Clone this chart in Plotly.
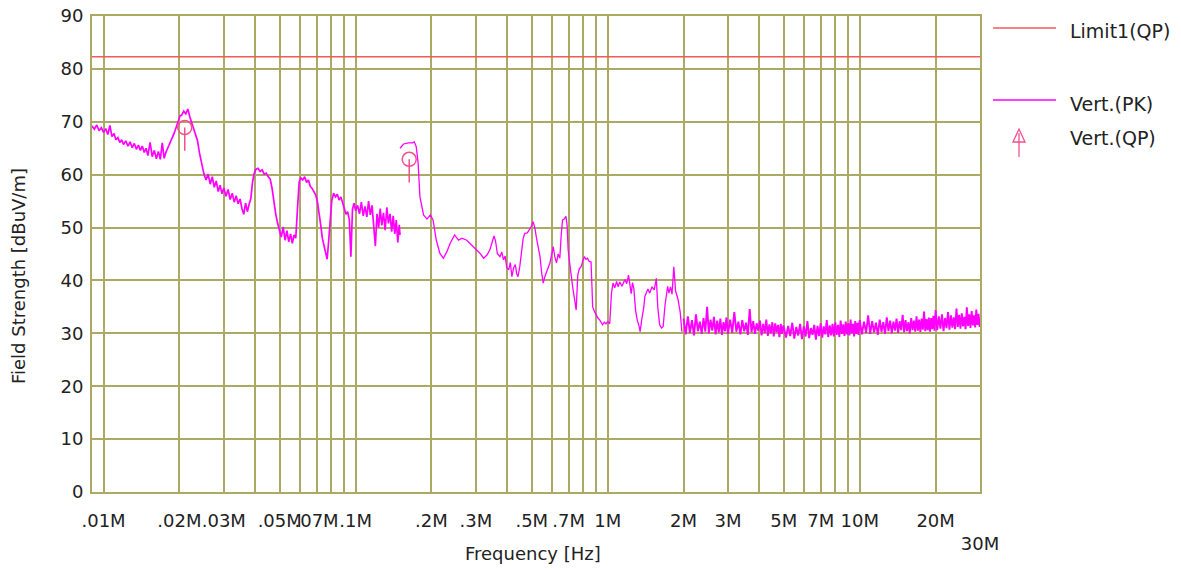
import math

import plotly.graph_objects as go

# Vert.(PK) sweep, 9 kHz - 150 kHz band (kHz, dBuV/m)
pk_band_a_khz = [
    9.0, 9.2, 9.4, 9.6, 9.8, 10.0, 10.2, 10.4, 10.6, 10.8, 11.0, 11.2, 11.4, 11.6, 11.8, 12.0,
    12.25, 12.5, 12.75, 13.0, 13.25, 13.5, 13.75, 14.0, 14.25, 14.5, 14.75, 15.0, 15.3, 15.6,
    15.9, 16.2, 16.5, 16.8, 17.1, 17.4, 17.7, 18.0,
    18.35, 18.7, 19.05, 19.4, 19.75, 20.1, 20.45, 20.8, 21.2, 21.6, 22.0, 22.4, 22.8, 23.2, 23.6, 24.0,
    24.5, 25.0, 25.5, 26.0, 26.5, 27.0, 27.5, 28.0, 28.5, 29.0, 29.5, 30.0,
    30.6, 31.2, 31.8, 32.4, 33.0, 33.6, 34.2, 34.8, 35.4, 36.0, 36.6, 37.2, 37.8, 38.4, 39.0, 39.6, 40.2,
    41.0, 41.8, 42.6, 43.4, 44.2, 45.0, 45.8, 46.6, 47.4, 48.2, 49.0, 49.8,
    50.7, 51.6, 52.5, 53.4, 54.3, 55.2, 56.1, 57.0, 57.9, 58.8, 59.7, 60.6,
    61.7, 62.8, 63.9, 65.0, 66.1, 67.2, 68.3, 69.4, 70.5, 71.6, 72.7, 73.8, 74.9, 76.0, 77.1, 78.2,
    79.3, 80.4,
    81.8, 83.2, 84.6, 86.0, 87.4, 88.8, 90.2, 91.6, 93.0, 94.4, 95.8, 97.2, 98.6, 100.0,
    101.8, 103.6, 105.4, 107.2, 109.0, 110.8, 112.6, 114.4, 116.2, 118.0, 119.8, 121.6, 123.4,
    125.2, 127.0, 129.0, 131.0, 133.0, 135.0, 137.0, 139.0, 141.0, 143.0, 145.0, 147.0, 149.0, 150.0,
]
pk_band_a_db = [
    69.2, 68.6, 69.4, 68.3, 68.9, 68.0, 68.7, 67.6, 69.3, 67.2, 67.8, 66.6, 67.0, 66.1, 66.6, 65.7,
    66.4, 65.4, 66.2, 65.1, 65.9, 64.8, 65.6, 64.6, 65.4, 64.2, 65.0, 63.6, 66.1, 63.4,
    64.6, 63.0, 64.4, 62.9, 66.0, 63.1, 64.3, 65.0,
    65.8, 66.9, 67.8, 68.9, 70.0, 71.1, 71.3, 72.0, 71.5, 72.4, 70.9, 69.8, 68.3, 67.5, 66.4, 64.2,
    61.8, 60.2, 59.0, 60.1, 58.2, 59.6, 57.6, 58.8, 56.8, 58.0, 56.4, 57.5,
    55.9, 57.2, 55.3, 56.5, 54.8, 56.0, 54.5, 55.4, 53.6, 52.5, 54.6, 53.0, 54.4, 55.5, 58.6, 60.2, 61.0,
    61.2, 60.6, 60.9, 60.1, 60.3, 59.6, 59.2, 57.5, 54.8, 52.6, 50.9, 49.6,
    48.2, 50.1, 47.6, 49.4, 47.3, 48.8, 47.0, 48.6, 48.0, 53.5, 58.6, 59.4,
    59.0, 59.6, 58.5, 59.0, 57.8, 57.4, 56.8, 56.2, 55.0, 53.0, 50.5, 48.0, 46.5, 45.0, 44.0, 47.5,
    52.0, 55.0,
    56.5, 55.8, 56.3, 55.2, 55.8, 54.6, 53.8, 52.5, 53.0, 51.5, 44.5, 53.5, 54.6, 53.2,
    54.2, 52.6, 54.8, 52.2, 54.0, 52.0, 55.0, 52.4, 54.2, 49.5, 46.5, 52.6, 50.0,
    53.6, 50.4, 52.8, 49.5, 53.8, 50.8, 52.6, 49.2, 52.2, 48.8, 51.4, 47.2, 50.5, 48.6,
]

# Vert.(PK) sweep, 150 kHz - 2 MHz (MHz, dBuV/m)
pk_band_b_mhz = [
    0.150, 0.155, 0.162, 0.168, 0.171, 0.174, 0.177, 0.180, 0.186, 0.192,
    0.198, 0.203, 0.209, 0.216, 0.223, 0.230, 0.237, 0.247, 0.256, 0.264,
    0.276, 0.289, 0.302, 0.312, 0.322, 0.332, 0.341, 0.354, 0.359, 0.365,
    0.374, 0.380, 0.386, 0.392, 0.398, 0.405, 0.411, 0.417, 0.423, 0.430,
    0.436, 0.441, 0.448, 0.455, 0.462, 0.469, 0.480, 0.492, 0.499, 0.506,
    0.514, 0.522, 0.530, 0.539, 0.547, 0.555, 0.564, 0.572, 0.581, 0.590,
    0.599, 0.608, 0.617, 0.627, 0.636, 0.646, 0.654, 0.662, 0.672, 0.683,
    0.690, 0.697, 0.708, 0.718, 0.729, 0.740, 0.750, 0.761, 0.772, 0.784,
    0.796, 0.808, 0.820, 0.831, 0.845, 0.859, 0.866, 0.872, 0.885, 0.899,
    0.915, 0.931, 0.943, 0.955, 0.970, 0.985, 1.000, 1.019, 1.035, 1.050,
    1.067, 1.085, 1.100, 1.117, 1.140, 1.170, 1.190, 1.210, 1.225, 1.240,
    1.255, 1.270, 1.290, 1.310, 1.330, 1.345, 1.365, 1.390, 1.405, 1.420,
    1.444, 1.468, 1.500, 1.530, 1.560, 1.580, 1.608, 1.635, 1.660, 1.690,
    1.710, 1.730, 1.750, 1.775, 1.800, 1.830, 1.860, 1.900, 1.940, 1.970,
]
pk_band_b_db = [
    65.0, 65.8, 66.0, 66.0, 66.2, 65.3, 62.2, 55.8, 52.4, 51.6,
    52.4, 51.4, 47.6, 45.1, 44.2, 45.4, 47.0, 48.6, 47.6, 48.0,
    47.6, 46.7, 45.8, 45.1, 44.2, 44.8, 45.8, 48.4, 47.5, 45.1,
    44.5, 45.4, 43.9, 44.6, 42.4, 42.0, 43.4, 40.7, 42.3, 43.0,
    41.2, 40.7, 42.6, 45.8, 47.9, 48.9, 49.0, 49.8, 50.3, 51.1,
    50.0, 48.0, 46.5, 44.5, 41.5, 39.5, 40.8, 41.5, 42.3, 43.3,
    44.8, 46.4, 44.5, 43.3, 45.0, 44.2, 48.5, 51.4, 51.6, 52.1,
    50.5, 45.8, 43.0, 40.1, 38.2, 36.3, 34.4, 41.0, 42.2, 42.6,
    43.6, 44.5, 44.0, 44.2, 43.6, 43.5, 39.0, 35.0, 34.2, 33.5,
    32.9, 32.5, 32.0, 31.6, 32.1, 31.8, 32.2, 31.8, 37.5, 39.5,
    38.6, 39.8, 38.8, 39.7, 38.9, 40.2, 39.4, 41.0, 39.2, 37.5,
    39.6, 38.5, 34.4, 32.5, 31.5, 30.3, 32.6, 34.8, 37.0, 37.5,
    38.4, 37.6, 38.8, 38.2, 40.4, 35.0, 31.6, 31.0, 31.3, 35.5,
    37.8, 38.9, 37.6, 38.8, 37.4, 42.6, 38.0, 36.5, 34.0, 30.3,
]

# Vert.(PK) sweep, 2 MHz - 30 MHz (MHz, dBuV/m)
pk_band_c_mhz = [
    2.00, 2.04, 2.08, 2.12, 2.16, 2.20, 2.24, 2.28, 2.32, 2.36, 2.40, 2.44, 2.48, 2.52, 2.56,
    2.60, 2.64, 2.68, 2.72, 2.76, 2.80, 2.84, 2.88, 2.92, 2.96, 3.00,
    3.06, 3.12, 3.18, 3.24, 3.30, 3.36, 3.42, 3.48, 3.54, 3.60, 3.66, 3.72, 3.78, 3.84, 3.90,
    3.96, 4.02, 4.08, 4.14, 4.20, 4.26, 4.32, 4.38, 4.44, 4.50, 4.56, 4.62, 4.68, 4.74, 4.80,
    4.86, 4.92, 4.98,
    5.1, 5.2, 5.3, 5.4, 5.5, 5.6, 5.7, 5.8, 5.9, 6.0, 6.1, 6.2, 6.3, 6.4, 6.5, 6.6, 6.7, 6.8,
    6.9, 7.0, 7.1, 7.2, 7.3, 7.4, 7.5, 7.6, 7.7, 7.8, 7.9, 8.0, 8.1, 8.2, 8.3, 8.4, 8.5, 8.6,
    8.7, 8.8, 8.9, 9.0, 9.1, 9.2, 9.3, 9.4, 9.5, 9.6, 9.7, 9.8, 9.9, 10.0,
    10.2, 10.4, 10.6, 10.8, 11.0, 11.2, 11.4, 11.6, 11.8, 12.0, 12.2, 12.4, 12.6, 12.8, 13.0,
    13.2, 13.4, 13.6, 13.8, 14.0, 14.2, 14.4, 14.6, 14.8, 15.0, 15.2, 15.4, 15.6, 15.8, 16.0,
    16.2, 16.4, 16.6, 16.8, 17.0, 17.2, 17.4, 17.6, 17.8, 18.0, 18.2, 18.4, 18.6, 18.8, 19.0,
    19.2, 19.4, 19.6, 19.8, 20.0,
    20.3, 20.6, 20.9, 21.2, 21.5, 21.8, 22.1, 22.4, 22.7, 23.0, 23.3, 23.6, 23.9, 24.2, 24.5,
    24.8, 25.1, 25.4, 25.7, 26.0, 26.3, 26.6, 26.9, 27.2, 27.5, 27.8, 28.1, 28.4, 28.7, 29.0,
    29.3, 29.6, 29.9, 30.0,
]
pk_band_c_db = [
    32.8, 29.8, 33.2, 30.1, 32.5, 29.6, 33.6, 30.4, 32.2, 29.9, 32.9, 30.3, 35.0, 30.0, 32.6,
    30.5, 33.1, 29.8, 32.4, 30.2, 32.8, 29.7, 32.1, 30.4, 33.0, 29.9,
    32.6, 30.1, 34.0, 30.3, 32.2, 29.8, 32.5, 30.4, 32.0, 29.7, 34.6, 30.2, 32.3, 29.9, 31.9,
    30.5, 32.4, 29.6, 31.8, 30.1, 32.6, 29.5, 31.7, 30.0, 32.1, 29.4, 31.9, 30.2, 31.6, 29.3,
    31.8, 29.9, 31.5,
    29.2, 31.4, 29.5, 32.0, 29.0, 31.2, 29.6, 31.8, 28.9, 31.3, 29.4, 32.3, 29.1, 31.0, 29.7,
    31.6, 28.8, 31.4, 29.5, 31.9, 29.2, 31.3, 29.8, 32.5, 29.3, 31.5, 29.6, 31.8, 29.4, 32.1,
    29.7, 31.6, 29.3, 32.4, 29.9, 31.7, 29.5, 32.2, 29.8, 31.9, 29.6, 32.6, 30.0, 31.8, 29.4,
    32.3, 29.9, 32.0, 29.7, 32.5,
    29.8, 32.2, 30.1, 33.4, 29.9, 32.3, 30.2, 32.0, 29.7, 32.6, 30.3, 32.1, 29.9, 33.0, 30.4,
    32.4, 30.0, 32.2, 30.5, 32.8, 30.1, 32.3, 30.6, 33.5, 30.2, 32.5, 30.4, 32.1, 30.0, 32.9,
    30.6, 32.4, 30.3, 33.2, 30.5, 32.6, 30.2, 32.8, 30.7, 34.1, 30.4, 32.7, 30.6, 33.0, 30.3,
    32.9, 30.8, 33.3, 30.5, 34.4,
    30.6, 33.2, 30.9, 33.6, 30.4, 32.9, 31.0, 34.0, 30.7, 33.4, 31.1, 33.0, 30.8, 34.7, 31.2,
    33.5, 30.9, 33.8, 31.3, 33.1, 30.8, 34.9, 31.4, 33.6, 31.0, 34.2, 31.5, 33.4, 31.1, 34.5,
    31.6, 33.7, 31.2, 33.0,
]

# Vert.(QP) final measurements
qp_mhz = [0.0210, 0.1632]
qp_db = [68.9, 62.9]

# Limit1(QP)
limit_mhz = [0.009, 30.0]
limit_db = [82.3, 82.3]

tick_mhz = [0.01, 0.02, 0.03, 0.05, 0.07, 0.1, 0.2, 0.3, 0.5, 0.7, 1, 2, 3, 5, 7, 10, 20, 30]
tick_text = [".01M", ".02M", ".03M", ".05M", ".07M", ".1M", ".2M", ".3M", ".5M", ".7M",
             "1M", "2M", "3M", "5M", "7M", "10M", "20M", " <br>30M"]

assert len(pk_band_a_khz) == len(pk_band_a_db)
assert len(pk_band_b_mhz) == len(pk_band_b_db)
assert len(pk_band_c_mhz) == len(pk_band_c_db)

GRID = "#ABA964"
PK_COLOR = "#FF00FF"
QP_COLOR = "#F4508E"
LIMIT_COLOR = "#F25A5A"
TEXT = "#222222"
FONT = "DejaVu Sans, Verdana, sans-serif"
QP_STEM_DB = 4.4

W, H = 1181, 570
L, R, T, B = 92, 201, 16, 78


def px_x(px):
    return (px - L) / (W - L - R)


def px_y(py):
    return (H - B - py) / (H - T - B)


fig = go.Figure()
fig.add_trace(go.Scatter(
    x=[f * 1e6 for f in limit_mhz], y=limit_db, mode="lines",
    line=dict(color=LIMIT_COLOR, width=1.5), name="Limit1(QP)",
))
# the three sweep bands share one legend entry; noisy bands get a heavier stroke
for xs, ys, lw in [
    ([f * 1e3 for f in pk_band_a_khz], pk_band_a_db, 1.7),
    ([f * 1e6 for f in pk_band_b_mhz], pk_band_b_db, 1.3),
    ([f * 1e6 for f in pk_band_c_mhz], pk_band_c_db, 1.9),
]:
    fig.add_trace(go.Scatter(
        x=xs, y=ys, mode="lines", legendgroup="pk", name="Vert.(PK)",
        line=dict(color=PK_COLOR, width=lw),
    ))
fig.add_trace(go.Scatter(
    x=[f * 1e6 for f in qp_mhz], y=qp_db, mode="markers", name="Vert.(QP)",
    marker=dict(symbol="circle-open", size=14, color=QP_COLOR, line=dict(width=1.5)),
    error_y=dict(type="data", symmetric=False, array=[0] * len(qp_db),
                 arrayminus=[QP_STEM_DB] * len(qp_db), width=0,
                 color=QP_COLOR, thickness=1.5),
))

major = [f * 1e6 for f in tick_mhz]
minor = [m * 10 ** e for e in range(4, 8) for m in range(1, 10)
         if 9e3 <= m * 10 ** e <= 3e7 and m * 10 ** e not in major]

fig.update_xaxes(
    type="log", range=[math.log10(9e3), math.log10(3e7) + 1e-6],
    tickmode="array", tickvals=major, ticktext=tick_text, tickangle=0,
    ticklabelstandoff=11,
    showgrid=True, gridcolor=GRID, gridwidth=2,
    minor=dict(tickmode="array", tickvals=minor, showgrid=True, gridcolor=GRID, gridwidth=2),
    showline=True, linecolor=GRID, linewidth=2, mirror=True,
    ticks="", zeroline=False,
)
fig.update_yaxes(
    range=[0, 90], tick0=0, dtick=10, ticklabelstandoff=3,
    showgrid=True, gridcolor=GRID, gridwidth=2,
    showline=True, linecolor=GRID, linewidth=2, mirror=True,
    ticks="", zeroline=False,
)

# legend drawn by hand to match the instrument plot layout
shapes = [
    dict(type="line", xref="paper", yref="paper", x0=px_x(993), x1=px_x(1056),
         y0=px_y(28), y1=px_y(28), line=dict(color=LIMIT_COLOR, width=1.5)),
    dict(type="line", xref="paper", yref="paper", x0=px_x(993), x1=px_x(1056),
         y0=px_y(100), y1=px_y(100), line=dict(color=PK_COLOR, width=1.5)),
    dict(type="path", xref="paper", yref="paper",
         path=(f"M {px_x(1019)},{px_y(129)} L {px_x(1013)},{px_y(142)} "
               f"L {px_x(1025)},{px_y(142)} Z"),
         line=dict(color=QP_COLOR, width=1.3)),
    dict(type="line", xref="paper", yref="paper", x0=px_x(1019), x1=px_x(1019),
         y0=px_y(133), y1=px_y(157), line=dict(color=QP_COLOR, width=1.3)),
]
annotations = [
    dict(text=t, xref="paper", yref="paper", x=px_x(1068), y=px_y(py),
         xanchor="left", yanchor="middle", showarrow=False,
         font=dict(size=19, color=TEXT))
    for t, py in [("Limit1(QP)", 31), ("Vert.(PK)", 104), ("Vert.(QP)", 138)]
]
annotations.append(dict(
    text="Field Strength [dBuV/m]", xref="paper", yref="paper",
    x=px_x(18), y=px_y(276), textangle=-90, xanchor="center", yanchor="middle",
    showarrow=False, font=dict(size=18, color=TEXT),
))
annotations.append(dict(
    text="Frequency [Hz]", xref="paper", yref="paper",
    x=px_x(533), y=px_y(553), xanchor="center", yanchor="middle",
    showarrow=False, font=dict(size=18, color=TEXT),
))

fig.update_layout(
    width=W, height=H,
    margin=dict(l=L, r=R, t=T, b=B, autoexpand=False),
    plot_bgcolor="white", paper_bgcolor="white",
    font=dict(family=FONT, size=18, color=TEXT),
    showlegend=False, hovermode=False,
    shapes=shapes, annotations=annotations,
)

fig.write_html(
    "out.html",
    config={"displayModeBar": False},
    post_script="document.body.style.margin = '0px';",
)
